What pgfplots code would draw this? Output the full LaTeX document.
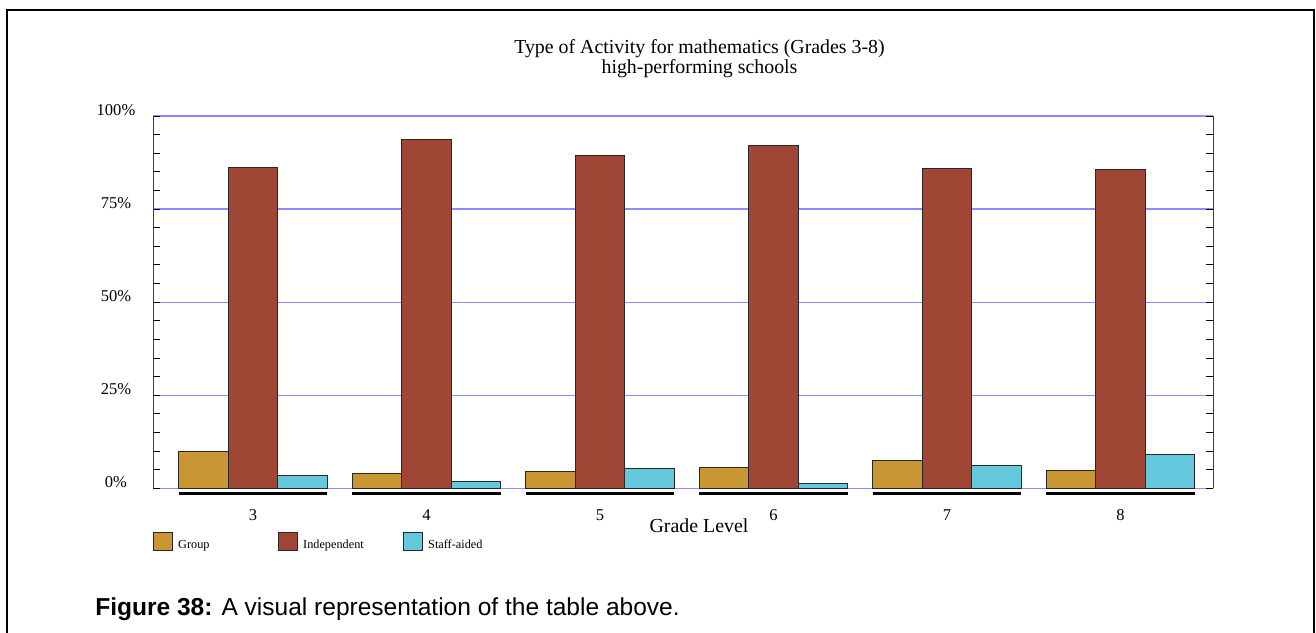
\documentclass[border=0pt]{standalone}
\usepackage{fontspec}
\setmainfont{Liberation Serif}
\newfontfamily\capfont{Liberation Sans}
\usepackage{pgfplots}
\pgfplotsset{compat=1.18}
\newlength\PX \setlength\PX{0.75pt}
\definecolor{cgroup}{RGB}{200,150,50}
\definecolor{cindep}{RGB}{160,70,52}
\definecolor{cstaff}{RGB}{99,200,220}
\definecolor{cgrid}{RGB}{140,140,255}
\definecolor{cedge}{RGB}{40,40,40}
\pgfplotsset{boxlegend/.style={legend image code/.code={\draw[##1] (0\PX,-5\PX) rectangle (19\PX,13\PX);}}}
\begin{document}
\begin{tikzpicture}
\useasboundingbox (0,0) rectangle (1316\PX,-632\PX);
\draw[black, line width=2.2\PX] (7\PX,-640\PX) -- (7\PX,-10\PX) -- (1314\PX,-10\PX) -- (1314\PX,-640\PX);
\begin{axis}[
  at={(153.3\PX,-488.3\PX)}, anchor=south west,
  scale only axis, width=1060\PX, height=372.3\PX,
  xmin=2.4254, xmax=8.535, ymin=0, ymax=100,
  ybar, bar width=0.2853,
  clip=false,
  xtick={3,4,5,6,7,8}, xticklabels={3,4,5,6,7,8},
  ytick={0,25,50,75,100}, yticklabels={0\%,25\%,50\%,75\%,100\%},
  minor y tick num=4,
  xtick style={draw=none},
  ytick style={black, line width=0.9\PX},
  minor tick style={black, line width=0.9\PX},
  major tick length=7\PX, minor tick length=7\PX,
  ymajorgrids,
  major grid style={cgrid, line width=1.2\PX},
  separate axis lines,
  x axis line style={draw=none},
  y axis line style={black!75, line width=1.2\PX},
  xticklabel style={anchor=center, yshift=-19.5\PX, font=\fontsize{12.4}{14}\selectfont},
  yticklabel style={anchor=center, xshift=-37.3\PX, yshift=5.8\PX, font=\fontsize{12.4}{14}\selectfont},
  xlabel={Grade Level},
  xlabel style={at={(axis description cs:0.5148,-0.0995)}, anchor=center, font=\fontsize{14.9}{17}\selectfont},
  legend columns=3,
  legend style={draw=none, fill=none, at={(axis description cs:-0.001,-0.1166)}, anchor=north west,
    inner sep=0pt, row sep=0pt,
    /tikz/every even column/.append style={column sep=0pt},
    nodes={inner sep=0pt, font=\fontsize{9.2}{10}\selectfont}},
]
\addplot[fill=cgroup, draw=cedge, line width=1\PX, bar shift=-0.2853, boxlegend]
  coordinates {(3,9.8) (4,4.0) (5,4.4) (6,5.7) (7,7.4) (8,4.7)};
\addlegendentry{\hspace*{5.7\PX}\makebox[99.3\PX][l]{Group}}
\addplot[fill=cindep, draw=cedge, line width=1\PX, bar shift=0, boxlegend]
  coordinates {(3,86.2) (4,93.8) (5,89.5) (6,92.2) (7,85.8) (8,85.5)};
\addlegendentry{\hspace*{5.7\PX}\makebox[99.3\PX][l]{Independent}}
\addplot[fill=cstaff, draw=cedge, line width=1\PX, bar shift=0.2853, boxlegend]
  coordinates {(3,3.4) (4,1.8) (5,5.4) (6,1.3) (7,6.1) (8,9.0)};
\addlegendentry{\hspace*{5.7\PX}\makebox[99.3\PX][l]{Staff-aided}}
\addplot[sharp plot, mark=none, black, line width=3\PX, forget plot] coordinates {(2.572,-1.45) (3.428,-1.45)};
\addplot[sharp plot, mark=none, black, line width=3\PX, forget plot] coordinates {(3.572,-1.45) (4.428,-1.45)};
\addplot[sharp plot, mark=none, black, line width=3\PX, forget plot] coordinates {(4.572,-1.45) (5.428,-1.45)};
\addplot[sharp plot, mark=none, black, line width=3\PX, forget plot] coordinates {(5.572,-1.45) (6.428,-1.45)};
\addplot[sharp plot, mark=none, black, line width=3\PX, forget plot] coordinates {(6.572,-1.45) (7.428,-1.45)};
\addplot[sharp plot, mark=none, black, line width=3\PX, forget plot] coordinates {(7.572,-1.45) (8.428,-1.45)};
\end{axis}
\node[anchor=base, inner sep=0pt, font=\fontsize{14.9}{17}\selectfont] at (699.5\PX,-53.5\PX) {Type of Activity for mathematics (Grades 3-8)};
\node[anchor=base, inner sep=0pt, font=\fontsize{14.9}{17}\selectfont] at (699.5\PX,-73\PX) {high-performing schools};
\node[anchor=base west, inner sep=0pt, font=\capfont\fontsize{18.4}{21}\selectfont] at (95\PX,-615\PX) {\textbf{Figure 38:}\hspace{9\PX}A visual representation of the table above.};
\end{tikzpicture}
\end{document}
